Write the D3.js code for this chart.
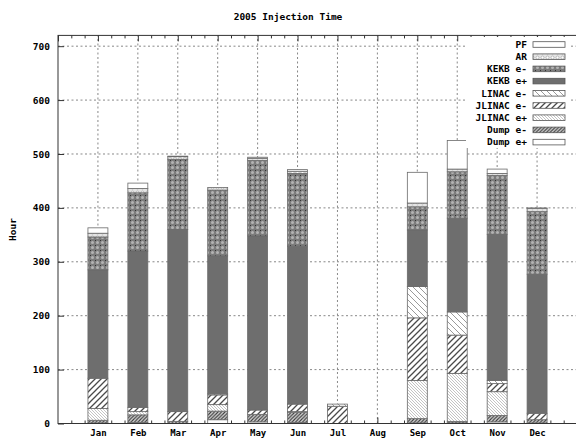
<!DOCTYPE html>
<html>
<head>
<meta charset="utf-8">
<script src="https://cdn.jsdelivr.net/npm/d3@7"></script>
<style>
  body { margin: 0; background: #fff; }
  text { font-family: "DejaVu Sans Mono", monospace; font-weight: bold; font-size: 9.5px; fill: #000; }
</style>
</head>
<body>
<div class="box"></div>
<script>
// month labels
let months = ['Jan', 'Feb', 'Mar', 'Apr', 'May', 'Jun', 'Jul', 'Aug', 'Sep', 'Oct', 'Nov', 'Dec']
// hours per month, one array per series
let pf       = [10, 10, 1, 0, 2, 3, 0, 0, 57, 53, 8, 1]
let ar       = [7, 8, 5, 5, 4, 4, 0, 0, 7, 5, 4, 6]
let kekbEm   = [61, 108, 130, 122, 140, 135, 0, 0, 43, 86, 109, 116]
let kekbEp   = [201, 290, 338, 256, 323, 293, 0, 0, 105, 174, 271, 258]
let linacEm  = [0, 0, 0, 2, 0, 0, 4, 0, 58, 43, 6, 0]
let jlinacEm = [56, 8, 18, 18, 8, 14, 32, 0, 116, 71, 15, 12]
let jlinacEp = [22, 6, 0, 12, 0, 1, 0, 0, 71, 89, 44, 0]
let dumpEm   = [5, 14, 4, 16, 14, 19, 0, 0, 8, 3, 12, 6]
let dumpEp   = [1, 2, 0, 7, 3, 2, 0, 0, 1, 1, 3, 1]
let yTicks = [0, 100, 200, 300, 400, 500, 600, 700]
let title = '2005 Injection Time'
let yTitle = 'Hour'

// legend order (top to bottom); stacking is the reverse
let series = [
    {key: 'PF', vals: pf, fill: '#fff'},
    {key: 'AR', vals: ar, fill: 'url(#p-ar)'},
    {key: 'KEKB e-', vals: kekbEm, fill: 'url(#p-kekbm)'},
    {key: 'KEKB e+', vals: kekbEp, fill: '#6e6e6e'},
    {key: 'LINAC e-', vals: linacEm, fill: 'url(#p-linac)'},
    {key: 'JLINAC e-', vals: jlinacEm, fill: 'url(#p-jlm)'},
    {key: 'JLINAC e+', vals: jlinacEp, fill: 'url(#p-jlp)'},
    {key: 'Dump e-', vals: dumpEm, fill: 'url(#p-dm)'},
    {key: 'Dump e+', vals: dumpEp, fill: '#fff'},
]

let W = 576, H = 439
let svg = d3.select('.box').append('svg')
    .attr('width', W)
    .attr('height', H)

let x = d3.scaleLinear().domain([0, 13]).range([58, 577])
let y = d3.scaleLinear().domain([0, 720]).range([423.5, 35.4])

// patterns
let defs = svg.append('defs')
let hatch = (id, size, bg, d, stroke, sw) => {
    let p = defs.append('pattern')
        .attr('id', id)
        .attr('patternUnits', 'userSpaceOnUse')
        .attr('width', size)
        .attr('height', size)
    p.append('rect').attr('width', size).attr('height', size).attr('fill', bg)
    p.append('path').attr('d', d).attr('stroke', stroke).attr('stroke-width', sw).attr('fill', 'none')
    return p
}
let fw = (s) => `M0,${s} L${s},0 M${-s/2},${s/2} L${s/2},${-s/2} M${s/2},${s*1.5} L${s*1.5},${s/2}`
let bw = (s) => `M0,0 L${s},${s} M${-s/2},${s/2} L${s/2},${s*1.5} M${s/2},${-s/2} L${s*1.5},${s/2}`
hatch('p-linac', 6, '#fff', bw(6), '#9a9a9a', 1)
hatch('p-jlm', 6, '#fff', fw(6), '#4a4a4a', 1.3)
hatch('p-jlp', 3, '#fff', bw(3), '#aaaaaa', 0.7)
hatch('p-dm', 3.5, '#d8d8d8', fw(3.5), '#3a3a3a', 1.1)

let par = defs.append('pattern').attr('id', 'p-ar').attr('patternUnits', 'userSpaceOnUse')
    .attr('width', 5).attr('height', 5)
par.append('rect').attr('width', 5).attr('height', 5).attr('fill', '#e4e4e4')
par.append('circle').attr('cx', 2.5).attr('cy', 2.5).attr('r', 1.5).attr('fill', '#fff').attr('stroke', '#9a9a9a').attr('stroke-width', 0.6)

let pk = defs.append('pattern').attr('id', 'p-kekbm').attr('patternUnits', 'userSpaceOnUse')
    .attr('width', 5).attr('height', 5)
pk.append('rect').attr('width', 5).attr('height', 5).attr('fill', '#7c7c7c')
pk.append('circle').attr('cx', 2.5).attr('cy', 2.5).attr('r', 1.5).attr('fill', '#b4b4b4')
pk.append('rect').attr('x', 0).attr('y', 0).attr('width', 1).attr('height', 1).attr('fill', '#333')

// grid
let grid = svg.append('g')
grid.selectAll('.hg').data(yTicks.filter(d => d > 0)).enter().append('line')
    .attr('x1', x(0)).attr('x2', x(13))
    .attr('y1', d => y(d)).attr('y2', d => y(d))
    .attr('stroke', '#888').attr('stroke-width', 1).attr('stroke-dasharray', '2,2.5')
grid.selectAll('.vg').data(d3.range(1, 13)).enter().append('line')
    .attr('x1', d => x(d)).attr('x2', d => x(d))
    .attr('y1', y(0)).attr('y2', y(720))
    .attr('stroke', '#888').attr('stroke-width', 1).attr('stroke-dasharray', '2,2.5')

// ticks and labels
let yAxis = d3.axisLeft(y).tickValues(yTicks).tickSizeInner(-6).tickSizeOuter(0).tickPadding(8)
let xAxis = d3.axisBottom(x).tickValues(d3.range(1, 13)).tickFormat(i => months[i - 1])
    .tickSizeInner(-6).tickSizeOuter(0).tickPadding(6.5)
let xTop = d3.axisTop(x).tickValues(d3.range(0, 14)).tickFormat('').tickSizeInner(-6).tickSizeOuter(0)
let minor = d3.range(0, 13).flatMap(i => [i + 1 / 3, i + 2 / 3])
let xMinB = d3.axisBottom(x).tickValues(minor).tickFormat('').tickSizeInner(-3).tickSizeOuter(0)
let xMinT = d3.axisTop(x).tickValues(minor).tickFormat('').tickSizeInner(-3).tickSizeOuter(0)

let axes = svg.append('g')
axes.append('g').attr('transform', `translate(${x(0)},0)`).call(yAxis)
axes.append('g').attr('class', 'xlab').attr('transform', `translate(0,${y(0)})`).call(xAxis)
axes.append('g').attr('transform', `translate(0,${y(720)})`).call(xTop)
axes.append('g').attr('transform', `translate(0,${y(0)})`).call(xMinB)
axes.append('g').attr('transform', `translate(0,${y(720)})`).call(xMinT)
axes.selectAll('.domain').remove()
axes.selectAll('.tick line').attr('stroke', '#333')
axes.selectAll('.tick text').attr('font-family', null).attr('font-size', null).attr('fill', '#000')
axes.selectAll('.xlab .tick text').style('font-size', '9px')

// stacked bars
let rows = months.map((m, i) => {
    let r = {i: i + 1}
    series.forEach(s => r[s.key] = s.vals[i])
    return r
})
let keys = series.map(s => s.key).reverse()
let stacked = d3.stack().keys(keys)(rows)
let fills = {}
series.forEach(s => fills[s.key] = s.fill)

let bars = svg.append('g')
stacked.forEach(layer => {
    bars.selectAll('.b' + layer.index).data(layer.filter(d => d[1] - d[0] > 0)).enter().append('rect')
        .attr('x', d => x(d.data.i - 0.25))
        .attr('width', x(0.5) - x(0))
        .attr('y', d => y(d[1]))
        .attr('height', d => y(d[0]) - y(d[1]))
        .attr('fill', fills[layer.key])
        .attr('stroke', '#6a6a6a')
        .attr('stroke-width', 0.8)
})

// legend
let lg = svg.append('g')
lg.append('rect').attr('x', 466).attr('y', 37).attr('width', 104).attr('height', 111).attr('fill', '#fff')
series.forEach((s, i) => {
    let cy = 44.5 + i * 12.2
    lg.append('text')
        .attr('x', 527).attr('y', cy)
        .attr('dy', '0.35em')
        .attr('text-anchor', 'end')
        .text(s.key)
    lg.append('rect')
        .attr('x', 533).attr('y', cy - 2.8)
        .attr('width', 32).attr('height', 5.6)
        .attr('fill', s.fill)
        .attr('stroke', '#555')
        .attr('stroke-width', 0.8)
})

// frame
svg.append('rect')
    .attr('x', x(0)).attr('y', y(720))
    .attr('width', x(13) - x(0)).attr('height', y(0) - y(720))
    .attr('fill', 'none').attr('stroke', '#333').attr('stroke-width', 1)

// titles
svg.append('text').attr('x', 288).attr('y', 20).attr('text-anchor', 'middle').text(title)
svg.append('text')
    .attr('transform', `translate(16,${(y(0) + y(720)) / 2}) rotate(-90)`)
    .attr('text-anchor', 'middle')
    .text(yTitle)
</script>
</body>
</html>
